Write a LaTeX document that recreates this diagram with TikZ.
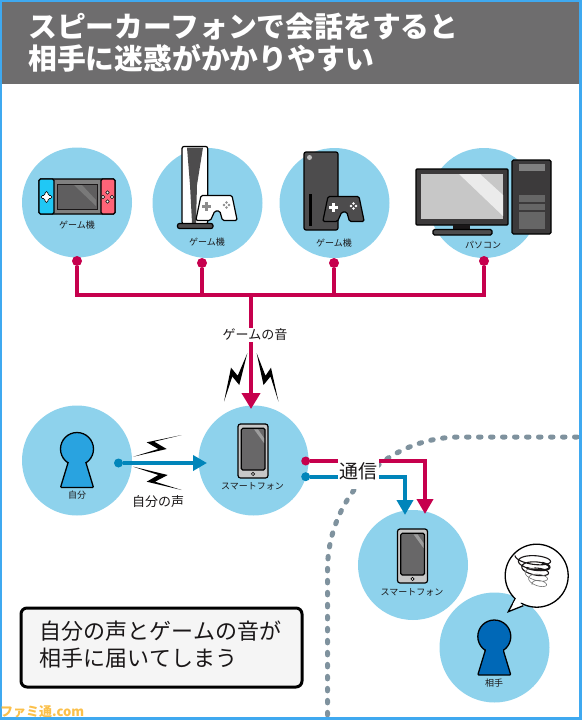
\documentclass[tikz,border=0pt]{standalone}
\usepackage{fontspec}
\setmainfont{Noto Sans CJK JP}
\usetikzlibrary{arrows.meta}
\definecolor{skyc}{HTML}{8ED2EC}
\definecolor{redc}{HTML}{C6004D}
\definecolor{bluec}{HTML}{0085BA}
\definecolor{framec}{HTML}{3FA9F0}
\definecolor{headc}{HTML}{6E6D6E}
\definecolor{dotc}{HTML}{7F929E}
\definecolor{darkc}{HTML}{4D4C4D}
\definecolor{blackc}{HTML}{1A1718}
\definecolor{joyl}{HTML}{20C8F5}
\definecolor{joyr}{HTML}{FF6478}
\definecolor{selfc}{HTML}{29A3E0}
\definecolor{otherc}{HTML}{0068B7}
\definecolor{markc}{HTML}{FBC04A}
\tikzset{
  bubble/.style={circle,fill=skyc,minimum size=110pt,inner sep=0pt},
  tag/.style={font=\fontsize{9}{10}\selectfont,text=blackc,inner sep=0pt},
  voicetag/.style={font=\fontsize{13}{15}\selectfont,text=blackc,fill=white,inner sep=1.5pt},
  reddot/.style={circle,fill=redc,minimum size=10pt,inner sep=0pt},
  bluedot/.style={circle,fill=bluec,minimum size=9pt,inner sep=0pt},
  redline/.style={draw=redc,line width=4.5pt},
  blueline/.style={draw=bluec,line width=3.5pt},
  redhead/.style={-{Triangle[length=16pt,width=18pt]}},
  bluehead/.style={-{Triangle[length=14pt,width=15pt]}},
  icon/.style={draw=black,line width=1.2pt,rounded corners=1.5pt},
  bolt/.style={fill=black},
}
\newcommand{\padicon}[4]{
  \begin{scope}[shift={(#1,#2)}]
    \draw[icon,fill=#3] (-15.5,-12.5) -- (15.5,-12.5) -- (20.7,12.5) -- (6,12.5) -- (3.3,3) -- (-1.7,3) -- (-6,12.5) -- (-20.7,12.5) -- cycle;
    \fill[#4] (-11.5,-6.5) rectangle (-8.5,2.5);
    \fill[#4] (-14.5,-3.5) rectangle (-5.5,-0.5);
    \foreach \dx/\dy in {10/-5.5,10/-0.5,7.5/-3,12.5/-3}
      \fill[#4] (\dx,\dy) circle (1.3);
  \end{scope}
}
\newcommand{\phoneicon}[2]{
  \begin{scope}[shift={(#1,#2)}]
    \draw[icon,fill=black!22,rounded corners=2.5pt] (-15,-27) rectangle (15,27);
    \draw[icon,fill=darkc!85] (-11.7,-22.7) rectangle (12,19);
    \fill[white!45!darkc] (1,-21.7) -- (5,-21.7) -- (11,-13) -- (11,-8) -- cycle;
    \draw[line width=.7pt,fill=white] (0,22.9) circle (1.6);
  \end{scope}
}
\newcommand{\keyperson}[3]{
  \begin{scope}[shift={(#1,#2)}]
    \draw[line width=1.3pt,fill=#3] (0,0) circle (16.5);
    \draw[line width=1.3pt,fill=#3,rounded corners=1pt] (-8.74,13) -- (-16.5,38.5) -- (16.5,38.5) -- (8.74,13);
    \fill[#3] (-8.2,9) rectangle (8.2,17);
  \end{scope}
}
\begin{document}
\begin{tikzpicture}[x=1pt,y=-1pt]
  \useasboundingbox (0,0) rectangle (581,720);
  \fill[white] (0,0) rectangle (581,720);
  \fill[headc] (0,0) rectangle (581,84);
  \node[anchor=west,text=white,inner sep=0pt,font=\fontsize{28.8}{30}\selectfont\bfseries] (headA) at (28,27) {スピーカーフォンで会話をすると};
  \node[anchor=west,text=white,inner sep=0pt,font=\fontsize{28.8}{30}\selectfont\bfseries] (headB) at (28,58) {相手に迷惑がかかりやすい};

  \node[bubble] (gameA) at (77,202.5) {};
  \node[bubble] (gameB) at (207.5,203) {};
  \node[bubble] (gameC) at (334.5,203) {};
  \node[bubble] (pc) at (484,203) {};
  \node[bubble] (self) at (77,460.5) {};
  \node[bubble] (phoneA) at (253.5,460.5) {};
  \node[bubble] (phoneB) at (413,565) {};
  \node[bubble] (other) at (494.5,647.5) {};

  \draw[icon,fill=black!50] (39,179) rectangle (115,214);
  \draw[icon,fill=joyl] (39,179) -- (54,179) -- (54,214) -- (39,214) -- cycle;
  \draw[icon,fill=joyr] (101,179) -- (115,179) -- (115,214) -- (101,214) -- cycle;
  \draw[line width=1pt,draw=blackc,fill=darkc!90] (57,184) rectangle (97,209);
  \fill[white!25!darkc] (74,185) -- (82,185) -- (96,200) -- (96,206) -- cycle;
  \draw[icon,line width=.7pt,fill=white] (45,191.5) -- (48,191.5) -- (48,195.5) -- (52,195.5) -- (52,198.5) -- (48,198.5) -- (48,202.5) -- (45,202.5) -- (45,198.5) -- (41,198.5) -- (41,195.5) -- (45,195.5) -- cycle;
  \foreach \dx/\dy in {107.5/192.5,107.5/201.5,103/197,112/197}
    \draw[line width=.6pt,fill=white] (\dx,\dy) circle (1.8);
  \node[tag] (tagA) at (77,225) {ゲーム機};

  \draw[icon,fill=white,rounded corners=2pt] (182,146.5) rectangle (207.7,224);
  \fill[darkc] (187,147.5) -- (203,147.5) -- (197,185) -- (196,223) -- (192,223) -- (190,185) -- cycle;
  \draw[icon,fill=darkc,rounded corners=2pt] (177.5,223.5) rectangle (213,228.5);
  \padicon{216.5}{208}{white}{black!45}
  \node[tag] (tagB) at (207,242) {ゲーム機};

  \draw[icon,fill=darkc,rounded corners=2pt] (304,152) rectangle (338,230);
  \fill[black!25] (309.5,157.5) circle (2.5);
  \fill[black] (309.2,194) rectangle (311.8,226);
  \padicon{343.5}{209}{darkc}{white}
  \node[tag] (tagC) at (334,243) {ゲーム機};

  \draw[icon,fill=blackc!85,rounded corners=1pt] (416,169) rectangle (508,225);
  \fill[black!22] (421,174) rectangle (503,219);
  \fill[black!8] (459,174) -- (480,174) -- (503,195) -- (503,216) -- cycle;
  \fill[blackc] (453,225) rectangle (470,230);
  \draw[icon,fill=darkc] (433,229.5) rectangle (492,235);
  \draw[icon,fill=blackc!85] (512,160) rectangle (551,234);
  \fill[black!50] (519,164) rectangle (545,171);
  \fill[black!60] (519,195) rectangle (545,202);
  \fill[black!60] (519,204) rectangle (545,210);
  \fill[black!60] (519,212) rectangle (545,229);
  \node[tag] (tagD) at (483,245) {パソコン};

  \coordinate (busA) at (77,295);
  \coordinate (busB) at (202,295);
  \coordinate (busC) at (334,295);
  \coordinate (busD) at (484,295);
  \coordinate (busM) at (251,295);
  \coordinate (tipC) at (251,409);
  \node[reddot] (dotA) at (77,261) {};
  \node[reddot] (dotB) at (202,263) {};
  \node[reddot] (dotC) at (334,263) {};
  \node[reddot] (dotD) at (484,261) {};
  \draw[redline] (dotA) -- (busA);
  \draw[redline] (dotB) -- (busB);
  \draw[redline] (dotC) -- (busC);
  \draw[redline] (dotD) -- (busD);
  \draw[redline,line cap=rect] (busA) -- (busD);
  \draw[redline,redhead] (busM) -- (tipC);
  \node[voicetag] (sound) at (255,335) {ゲームの音};

  \fill[bolt] (247.3,353.3) -- (237.7,375.7) -- (231,367.7) -- (224,401.7) -- (232.3,376.5) -- (239.3,385) -- cycle;
  \fill[bolt] (256.7,353.3) -- (263.5,385) -- (270.5,376.5) -- (278.5,401.7) -- (271,367.7) -- (265.5,375.7) -- cycle;
  \fill[bolt] (181.7,435) -- (146.7,442.3) -- (158.3,449) -- (133.3,456.7) -- (166.7,449) -- (154.3,441.7) -- cycle;
  \fill[bolt] (133.3,466.7) -- (167.7,475) -- (155,481.7) -- (181.7,490) -- (146.7,481.7) -- (158.3,475) -- cycle;

  \keyperson{77}{449}{selfc}
  \node[tag] (tagE) at (77,495.5) {自分};
  \node[bluedot] (dotE) at (118.5,463) {};
  \coordinate (tipE) at (207,463);
  \draw[blueline,bluehead] (dotE) -- (tipE);
  \node[voicetag,fill=none] (voice) at (158,502) {自分の声};

  \phoneicon{253}{451}
  \node[tag] (tagF) at (252.5,486.5) {スマートフォン};

  \draw[dotc,line width=5pt,line cap=round,dash pattern=on 2.5pt off 9.5pt] (577,437) -- (460,437) .. controls (386.5,437) and (327.5,496.5) .. (327.5,570) -- (327.5,717);

  \node[reddot,minimum size=9pt] (dotF) at (305.7,461) {};
  \node[bluedot] (dotG) at (305.7,476.7) {};
  \coordinate (bendF) at (425,461);
  \coordinate (bendG) at (405,476.7);
  \coordinate (tipF) at (425,514);
  \coordinate (tipG) at (405,515);
  \draw[redline,line width=4pt,-{Triangle[length=15pt,width=16pt]}] (dotF) -- (bendF) -- (tipF);
  \draw[blueline,line width=4pt,-{Triangle[length=15pt,width=16pt]}] (dotG) -- (bendG) -- (tipG);
  \node[voicetag,font=\fontsize{19}{20}\selectfont,inner sep=0pt,minimum width=41pt,minimum height=36pt] (link) at (358.5,471) {通信};

  \phoneicon{412.5}{556}
  \node[tag] (tagG) at (412,592) {スマートフォン};

  \keyperson{494.3}{636.5}{otherc}
  \node[tag] (tagH) at (494,683) {相手};

  \draw[line width=1.3pt,fill=white] (536.7,575.7) circle (31.5);
  \draw[line width=1.3pt,fill=white] (515,599) -- (508.3,611.7) -- (523.3,605.7);
  \fill[white] (517.5,596) -- (513,604) -- (525,602) -- cycle;
  \draw[blackc,line width=1.1pt] plot[domain=0:1000,samples=160,smooth] ({533+6*(\x/1800)-(18-11*(\x/1800))*cos(\x)},{557+29*(\x/1800)+(6-2*(\x/1800))*sin(\x)-1.5*cos(\x)});
  \draw[blackc,line width=2pt] plot[domain=420:600,samples=40,smooth] ({533+6*(\x/1800)-(18-11*(\x/1800))*cos(\x)},{557+29*(\x/1800)+(6-2*(\x/1800))*sin(\x)-1.5*cos(\x)});
  \draw[black!55,line width=.6pt] plot[domain=1000:1800,samples=120,smooth] ({533+6*(\x/1800)-(18-11*(\x/1800))*cos(\x)},{557+29*(\x/1800)+(6-2*(\x/1800))*sin(\x)-1.5*cos(\x)});

  \node[draw=black,line width=3pt,fill=black!4,rounded corners=6pt,minimum width=281pt,minimum height=79pt,inner sep=0pt] (note) at (161.5,647.5) {};
  \node[anchor=west,inner sep=0pt,text=blackc,font=\fontsize{22}{27}\selectfont] (noteA) at (39.5,631) {自分の声とゲームの音が};
  \node[anchor=west,inner sep=0pt,text=blackc,font=\fontsize{22}{27}\selectfont] (noteB) at (39.5,658) {相手に届いてしまう};

  \draw[framec,line width=3pt] (0.5,0.5) rectangle (580,718.5);
  \node[anchor=west,inner sep=0pt,text=markc,font=\fontsize{13}{13}\selectfont\bfseries] (mark) at (0,711.5) {ファミ通.com};
\end{tikzpicture}
\end{document}
